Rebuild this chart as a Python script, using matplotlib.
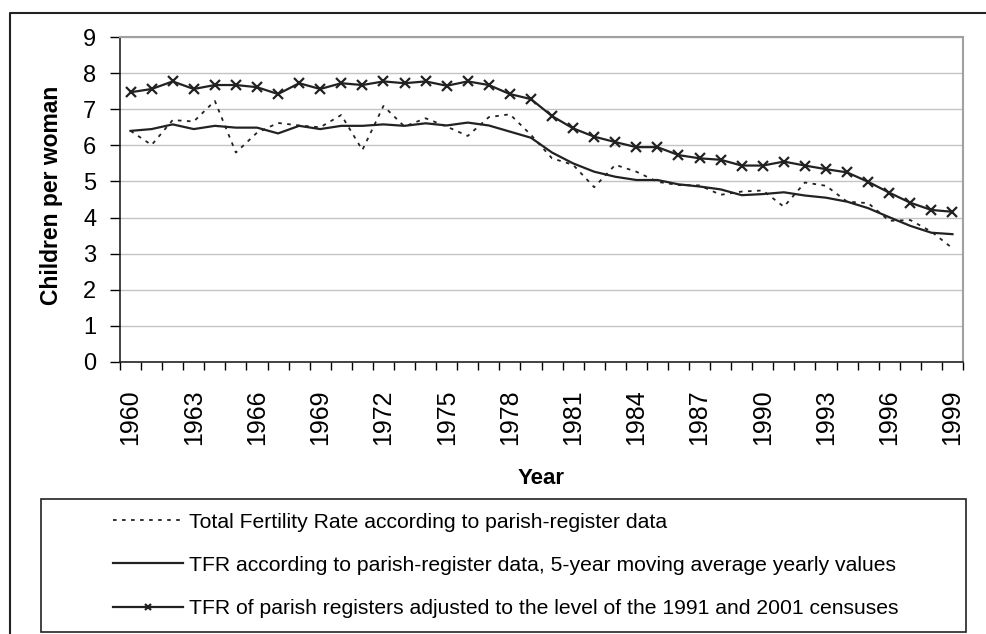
import numpy as np
import matplotlib
matplotlib.use('Agg')
import matplotlib.pyplot as plt
from matplotlib.lines import Line2D
from matplotlib.patches import Rectangle

plt.rcParams['font.family'] = ['Liberation Sans', 'DejaVu Sans']

years = list(range(1960, 2000))
tfr = [6.40, 6.01, 6.70, 6.66, 7.23, 5.80, 6.35, 6.62, 6.55, 6.50,
       6.84, 5.87, 7.09, 6.52, 6.75, 6.52, 6.26, 6.78, 6.86, 6.29,
       5.64, 5.46, 4.84, 5.46, 5.27, 4.99, 4.90, 4.89, 4.63, 4.72,
       4.75, 4.30, 4.97, 4.88, 4.44, 4.40, 3.91, 3.93, 3.61, 3.15]
tfr_ma = [6.40, 6.45, 6.58, 6.45, 6.54, 6.49, 6.49, 6.33, 6.54, 6.45,
          6.54, 6.54, 6.58, 6.54, 6.61, 6.55, 6.63, 6.55, 6.38, 6.21,
          5.80, 5.50, 5.27, 5.13, 5.04, 5.04, 4.92, 4.86, 4.78, 4.62,
          4.65, 4.70, 4.61, 4.55, 4.44, 4.26, 4.01, 3.77, 3.58, 3.54]
tfr_adj = [7.47, 7.56, 7.77, 7.56, 7.67, 7.67, 7.61, 7.42, 7.72, 7.56,
           7.72, 7.67, 7.77, 7.72, 7.77, 7.65, 7.77, 7.67, 7.42, 7.28,
           6.81, 6.47, 6.24, 6.09, 5.95, 5.95, 5.73, 5.64, 5.60, 5.44,
           5.44, 5.55, 5.44, 5.34, 5.25, 4.99, 4.69, 4.41, 4.21, 4.16]
labels = ['Total Fertility Rate according to parish-register data',
          'TFR according to parish-register data, 5-year moving average yearly values',
          'TFR of parish registers adjusted to the level of the 1991 and 2001 censuses']

W, H = 986, 634
fig = plt.figure(figsize=(W / 100, H / 100), dpi=100)
ax = fig.add_axes([120 / W, 1 - 362 / H, (963 - 120) / W, (362 - 37) / H])

x = np.arange(len(years))
l1, = ax.plot(x, tfr, color='#222222', lw=1.3, linestyle=(0, (2, 3)))
l2, = ax.plot(x, tfr_ma, color='#222222', lw=1.6)
l3, = ax.plot(x, tfr_adj, color='#222222', lw=1.6, marker='x', ms=7, mew=1.6)

ax.set_xlim(-0.5, len(years) - 0.5)
ax.set_ylim(0, 9)
ax.set_yticks(range(0, 10))
ax.yaxis.grid(True, color='#c4c4c4', lw=1)
ax.set_axisbelow(True)
ax.tick_params(axis='y', direction='out', length=7, width=1, pad=10, labelsize=17)

ax.set_xticks(x[::3])
ax.set_xticklabels([str(y) for y in years[::3]], rotation=90, fontsize=18)
ax.set_xticks(np.arange(-0.5, len(years)), minor=True)
ax.tick_params(axis='x', which='major', length=0, pad=19.5)
ax.tick_params(axis='x', which='minor', length=6, width=1, direction='out')

for s in ['left', 'bottom']:
    ax.spines[s].set_color('#222222')
    ax.spines[s].set_linewidth(1.2)
for s in ['top', 'right']:
    ax.spines[s].set_color('#a0a0a0')
    ax.spines[s].set_linewidth(1.5)

fig.text(52 / W, 1 - 195 / H, 'Children per woman', rotation=90, fontsize=16.5,
         fontweight='bold', ha='center', va='center')
fig.text(541 / W, 1 - 479 / H, 'Year', fontsize=16, fontweight='bold',
         ha='center', va='center')

# legend box drawn separately
fig.patches.append(Rectangle((41 / W, 1 - 632 / H), (966 - 41) / W, (632 - 499) / H,
                             transform=fig.transFigure, fill=False,
                             edgecolor='#222222', lw=1.2))
leg = fig.legend([l1, l2, l3], labels, loc='upper left',
                 bbox_to_anchor=(102 / W, 1 - 502 / H), frameon=False,
                 borderpad=0, handlelength=3.35, handletextpad=0.25,
                 labelspacing=1.15, numpoints=1,
                 prop={'family': ['Liberation Sans Narrow', 'Liberation Sans'], 'size': 15.2})
leg.legend_handles[2].set_markersize(5)

# outer frame
fig.add_artist(Line2D([10 / W, 10 / W, 1], [0, 1 - 13 / H, 1 - 13 / H],
                      transform=fig.transFigure, color='#222222', lw=1.5))

fig.savefig('out.png', dpi=100)
